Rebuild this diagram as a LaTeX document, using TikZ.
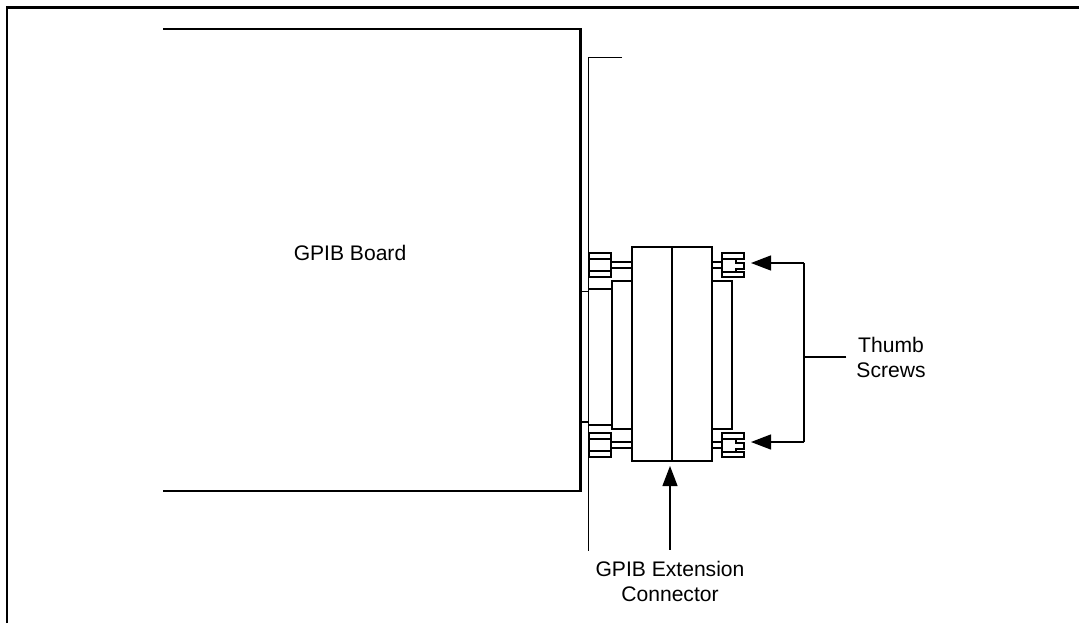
\documentclass[tikz,border=0pt]{standalone}
\usepackage{fontspec}
\setmainfont{Liberation Sans}
\usepackage{tikz}
\usetikzlibrary{positioning, arrows.meta}

\begin{document}
\begin{tikzpicture}[
      x=0.02cm, y=-0.02cm,
      part/.style={draw, line width=0.8pt},
      label/.style={font=\fontsize{12}{14.2}\selectfont, align=center, inner xsep=5.5pt, inner ysep=6pt},
      arrow/.style={-{Stealth[length=0.4cm, width=0.3cm, inset=0pt]}, line width=0.7pt},
      lead/.style={line width=0.7pt}
    ]
      \useasboundingbox (0,0) rectangle (1079,623);
      % outer frame
      \draw[line width=1.25pt] (7,623) -- (7,7.5) -- (1079,7.5);

      % board
      \draw[line width=1.5pt] (163,29) -- (580.5,29) -- (580.5,491) -- (163,491);
      \node[label] (board) at (350,253) {GPIB Board};

      % bracket
      \coordinate (brackettop) at (622,57.5);
      \coordinate (bracketbot) at (588.5,551);
      \draw[lead] (brackettop) -- (588.5,57.5) -- (bracketbot);
      \draw[part] (581,291.5) -- (589,291.5);
      \draw[part] (581,422) -- (589,422);

      % connector body
      \draw[part] (632,247) rectangle (672,461);
      \draw[part] (672,247) rectangle (712,461);
      \draw[part] (612,281) rectangle (632,429);
      \draw[part] (712,281) rectangle (732,429);
      \draw[part] (589,289) -- (612,289);
      \draw[part] (589,425) -- (612,425);

      % left and right screws
      \foreach \y in {0,180} {
        \draw[part] (589.5,253+\y) rectangle (611,277+\y);
        \draw[part] (589.5,259+\y) -- (611,259+\y);
        \draw[part] (589.5,271+\y) -- (611,271+\y);
        \draw[part] (611,262+\y) -- (632,262+\y);
        \draw[part] (611,268+\y) -- (632,268+\y);
        \draw[part] (712,262+\y) -- (722,262+\y);
        \draw[part] (712,268+\y) -- (722,268+\y);
        \draw[part] (722,253+\y) -- (744,253+\y) -- (744,259+\y) -- (736,259+\y) -- (736,263+\y) -- (744,263+\y) -- (744,269+\y) -- (736,269+\y) -- (736,272+\y) -- (744,272+\y) -- (744,277+\y) -- (722,277+\y) -- cycle;
        \draw[part] (722,259+\y) -- (736,259+\y);
        \draw[part] (722,272+\y) -- (736,272+\y);
      }

      % labels
      \node[label] (thumb) at (891,357) {Thumb\\Screws};
      \node[label] (ext) at (670,581) {GPIB Extension\\Connector};

      \coordinate (thumbfork) at (804,357);
      \coordinate (thumbup) at (751,263);
      \coordinate (thumblow) at (751,442);
      \coordinate (extstem) at (670,466);
      \draw[lead] (thumb.west) -- (thumbfork);
      \draw[arrow] (804,263) -- (thumbup);
      \draw[arrow] (804,442) -- (thumblow);
      \draw[lead] (804,263) -- (804,442);
      \draw[arrow] (ext.north) -- (extstem);
    \end{tikzpicture}
\end{document}
